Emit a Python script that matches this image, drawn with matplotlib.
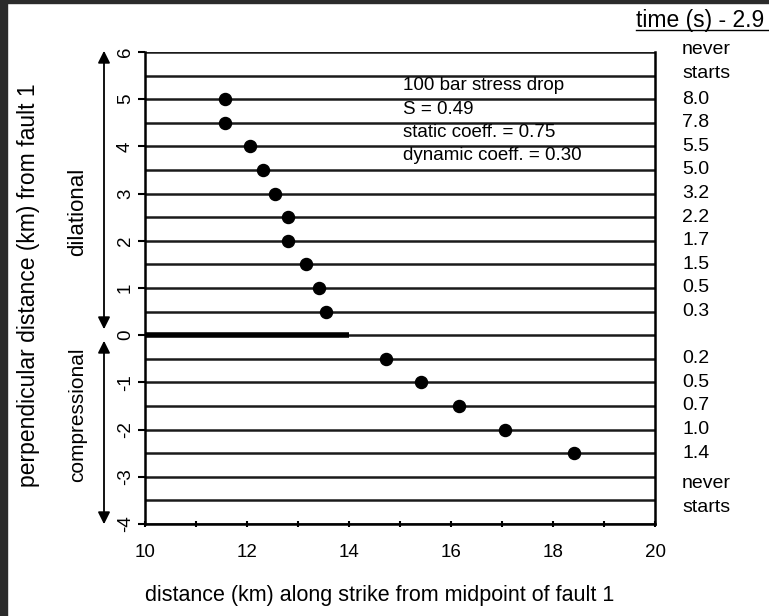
#!/usr/bin/env python3
"""
Rupture start times on receiver faults at different perpendicular offsets.
"""

import numpy as np
import matplotlib.pyplot as plt
from matplotlib.patches import Rectangle, FancyArrowPatch

plt.rcParams['font.family'] = ['Liberation Sans', 'DejaVu Sans']
plt.rcParams['axes.unicode_minus'] = False

# Hypocentre positions on the receiver faults
offset_km = [5.0, 4.5, 4.0, 3.5, 3.0, 2.5, 2.0, 1.5, 1.0, 0.5,
             -0.5, -1.0, -1.5, -2.0, -2.5]
along_strike_km = [11.57, 11.57, 12.06, 12.31, 12.55, 12.8, 12.8, 13.16, 13.41, 13.55,
                   14.73, 15.41, 16.16, 17.06, 18.41]

# Start times listed along the right edge
time_labels = ['8.0', '7.8', '5.5', '5.0', '3.2', '2.2', '1.7', '1.5', '0.5', '0.3',
               '0.2', '0.5', '0.7', '1.0', '1.4']

fault_levels = np.arange(-4.0, 6.01, 0.5)
fault1_end = 14.0

params_text = ['100 bar stress drop', 'S = 0.49',
               'static coeff. = 0.75', 'dynamic coeff. = 0.30']

fig = plt.figure(figsize=(7.69, 6.16), dpi=100)
ax = fig.add_axes([0.1886, 0.1494, 0.6632, 0.7662])


def ypix(v):
    """figure fraction from a pixel row counted from the top"""
    return 1 - v / 616


# receiver faults
for lvl in fault_levels:
    ax.plot([10, 20], [lvl, lvl], color='#1a1a1a', lw=1.8, zorder=1)
# source fault 1
ax.plot([10, fault1_end], [0, 0], color='black', lw=4, solid_capstyle='butt', zorder=2)

ax.scatter(along_strike_km, offset_km, s=75, color='black', zorder=3)

ax.set_xlim(10, 20)
ax.set_ylim(-4, 6)
ax.set_xticks(range(10, 21, 2))
ax.set_xticks(range(11, 20, 2), minor=True)
ax.set_yticks(range(-4, 7))
ax.spines['top'].set_visible(False)
for side in ['left', 'right', 'bottom']:
    ax.spines[side].set_linewidth(1.8)
ax.tick_params(axis='x', which='both', direction='inout', length=5, width=1.5,
               labelsize=13.5, pad=12)
ax.tick_params(axis='y', direction='out', length=5, width=1.5, labelsize=13.5, pad=3)
for lab in ax.get_yticklabels():
    lab.set_rotation(90)
    lab.set_va('center')

fig.text(380 / 769, ypix(596), 'distance (km) along strike from midpoint of fault 1',
         fontsize=15.5, ha='center', va='center')
fig.text(29 / 769, ypix(285), 'perpendicular distance (km) from fault 1', rotation=90,
         fontsize=16.5, ha='center', va='center')

# parameter box
for i, line in enumerate(params_text):
    ax.text(0.505, 0.928 - i * 0.049, line, transform=ax.transAxes, fontsize=13.5,
            ha='left', va='center', zorder=4)

# start times on the right
for y, lab in zip(offset_km, time_labels):
    ax.text(1.053, (y + 4) / 10, lab, transform=ax.transAxes, fontsize=14,
            ha='left', va='center', clip_on=False)
for top in [ypix(50), ypix(483)]:
    fig.text(682 / 769, top, 'never', fontsize=14, ha='left', va='center')
    fig.text(682 / 769, top - 24 / 616, 'starts', fontsize=14, ha='left', va='center')

# dilational / compressional arrows
arrow_x = 104 / 769
fig.patches.append(FancyArrowPatch(
    (arrow_x, ypix(48)), (arrow_x, ypix(332)), transform=fig.transFigure,
    arrowstyle='<|-|>', mutation_scale=18, color='black', lw=1.3))
fig.patches.append(FancyArrowPatch(
    (arrow_x, ypix(338)), (arrow_x, ypix(527)), transform=fig.transFigure,
    arrowstyle='<|-|>', mutation_scale=18, color='black', lw=1.3))
fig.text(78 / 769, ypix(212), 'dilational', rotation=90, fontsize=16,
         ha='center', va='center')
fig.text(78 / 769, ypix(415), 'compressional', rotation=90, fontsize=15,
         ha='center', va='center')

# time header
fig.text(636 / 769, ypix(20), 'time (s) - 2.9', fontsize=16.5, ha='left', va='center')
fig.add_artist(plt.Line2D([636 / 769, 1.0], [ypix(30), ypix(30)],
                          transform=fig.transFigure, color='black', lw=1))

# dark screenshot frame
fig.patches.append(Rectangle((0, 0), 7 / 769, 1, transform=fig.transFigure,
                             color='#2b2b2b', zorder=10))
fig.patches.append(Rectangle((0, ypix(3)), 1, 3 / 616, transform=fig.transFigure,
                             color='#2b2b2b', zorder=10))

fig.savefig('out.png', dpi=100)
